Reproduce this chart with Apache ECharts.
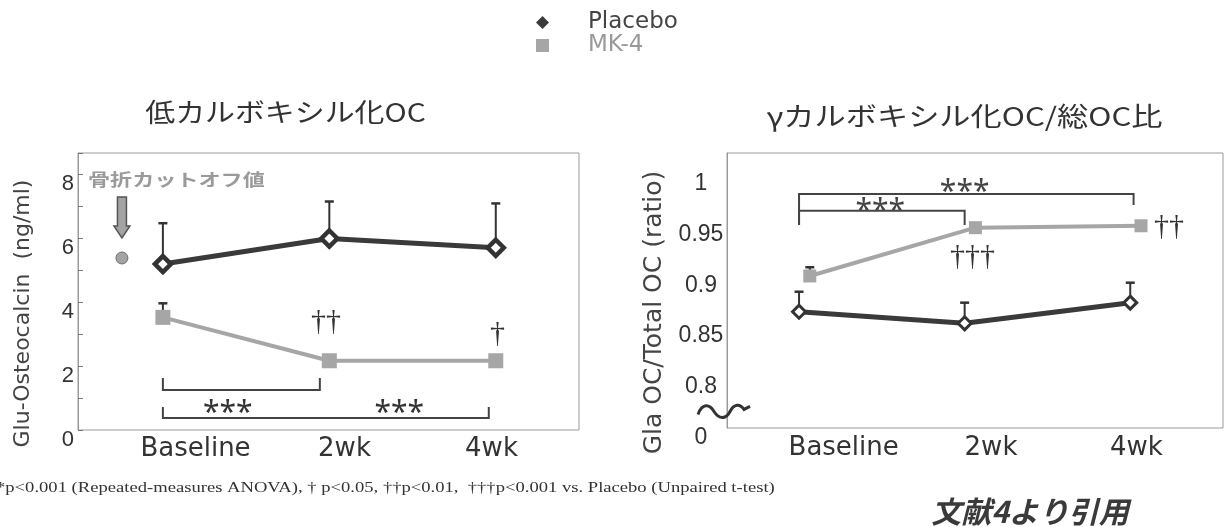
<!DOCTYPE html>
<html><head><meta charset="utf-8">
<script src="https://cdn.jsdelivr.net/npm/echarts@6/dist/echarts.min.js"></script>
<style>html,body{margin:0;padding:0;background:#fff}#c{width:1225px;height:527px}</style>
</head><body><div id="c"></div>
<script>
// ---------- data ----------
const categories = ['Baseline', '2wk', '4wk'];
const seriesNames = ['Placebo', 'MK-4'];

// left panel: Glu-Osteocalcin (ng/ml)
const gluTickLabels = [0, 2, 4, 6, 8];
const gluPlacebo = [5.20, 6.00, 5.71];
const gluPlaceboUpper = [6.48, 7.16, 7.10];
const gluMK4 = [3.53, 2.17, 2.17];
const gluMK4Upper = [3.97, 2.17, 2.17];
const gluCutoff = [-0.246, 5.39];                 // fracture cut-off value point
const gluCutoffArrow = [-0.246, 7.30, 6.02];      // x, arrow top, arrow tip
const gluCutoffText = ['骨折カットオフ値'];
const gluCutoffTextAt = [[-0.45, 7.84]];
const gluBrackets = [[0, 0.943, 1.25, 1.63, 1.63], [0, 1.958, 0.376, 0.72, 0.72]];
const gluStars = ['***', '***'];
const gluStarsAt = [[0.39, 0.52], [1.42, 0.52]];
const gluDaggers = ['††', '†'];
const gluDaggersAt = [[0.98, 3.37], [2.01, 2.99]];

// right panel: Gla OC / Total OC (ratio)
const ratioTickValues = [0.75, 0.8, 0.85, 0.9, 0.95, 1];
const ratioTickLabels = ['0', '0.8', '0.85', '0.9', '0.95', '1'];
const ratioPlacebo = [0.8646, 0.8532, 0.8735];
const ratioPlaceboUpper = [0.8843, 0.8735, 0.8932];
const ratioMK4 = [0.8998, 0.9474, 0.9493];
const ratioMK4Upper = [0.9084, 0.9474, 0.9493];
const ratioBrackets = [[0, 1.0, 0.9641, 0.950, 0.950], [0, 2.02, 0.9806, 0.950, 0.9697]];
const ratioStars = ['***', '***'];
const ratioStarsAt = [[0.49, 0.9633], [1.0, 0.9821]];
const ratioDaggers = ['†††', '††'];
const ratioDaggersAt = [[1.048, 0.918], [2.234, 0.9476]];
const ratioBreakAt = [[-0.453, 0.7663]];
const mk4Shift = 0.065;

// ---------- helpers ----------
const DARK = '#3a3a3a', GREY = '#a6a6a6';
function pts(arr, shift) { return arr.map((v, i) => [i + (shift || 0), v]); }
function errData(vals, ups, shift) { return vals.map((v, i) => [i + (shift || 0), v, ups[i]]); }
function errRender(color) {
  return function (params, api) {
    const p = api.coord([api.value(0), api.value(1)]);
    const q = api.coord([api.value(0), api.value(2)]);
    if (Math.abs(p[1] - q[1]) < 1) return null;
    return { type: 'group', children: [
      { type: 'line', shape: { x1: p[0], y1: p[1], x2: q[0], y2: q[1] }, style: { stroke: color, lineWidth: 2 } },
      { type: 'line', shape: { x1: q[0] - 4.5, y1: q[1], x2: q[0] + 4.5, y2: q[1] }, style: { stroke: color, lineWidth: 2.5 } }
    ] };
  };
}
function bracketRender(params, api) {
  const a = api.coord([api.value(0), api.value(3)]);
  const b = api.coord([api.value(0), api.value(2)]);
  const c = api.coord([api.value(1), api.value(2)]);
  const d = api.coord([api.value(1), api.value(4)]);
  return { type: 'polyline', shape: { points: [a, b, c, d] }, style: { stroke: '#444', lineWidth: 2, fill: null } };
}
function textRender(texts, font, color, align, scaleX) {
  return function (params, api) {
    const p = api.coord([api.value(0), api.value(1)]);
    return { type: 'text', x: p[0], y: p[1], scaleX: scaleX || 1,
      style: { text: texts[params.dataIndex], font: font, fill: color, align: align || 'center', verticalAlign: 'middle' } };
  };
}
function catLabel(v) {
  return v === 'Baseline' ? '{a|' + v + '}' : (v === '2wk' ? '{b|' + v + '}' : '{c|' + v + '}');
}
const catRich = {
  a: { fontFamily: 'DejaVu Sans', fontSize: 26, color: '#333', padding: [0, 0, 0, 68] },
  b: { fontFamily: 'DejaVu Sans', fontSize: 26, color: '#333', padding: [0, 0, 0, 32] },
  c: { fontFamily: 'DejaVu Sans', fontSize: 26, color: '#333', padding: [0, 8, 0, 0] }
};

const chart = echarts.init(document.getElementById('c'), null, { renderer: 'canvas' });
const option = {
  animation: false,
  backgroundColor: '#fff',
  legend: {
    orient: 'vertical', left: 531, top: 6, itemWidth: 13, itemHeight: 13, itemGap: 0,
    selectedMode: false,
    textStyle: { fontFamily: 'DejaVu Sans', fontSize: 23, lineHeight: 22, padding: [0, 0, 0, 34] },
    data: [
      { name: seriesNames[0], icon: 'diamond', itemStyle: { color: DARK, borderWidth: 0 }, textStyle: { color: '#444' } },
      { name: seriesNames[1], icon: 'rect', itemStyle: { color: GREY, borderWidth: 0 }, textStyle: { color: '#999' } }
    ]
  },
  graphic: [
    { type: 'text', x: 285.5, y: 112, scaleX: 1.15, style: { text: '低カルボキシル化OC', font: '26px "Noto Sans CJK JP"', fill: '#333', align: 'center', verticalAlign: 'middle' } },
    { type: 'text', x: 964.5, y: 116, scaleX: 1.2, style: { text: 'γカルボキシル化OC/総OC比', font: '26px "Noto Sans CJK JP"', fill: '#333', align: 'center', verticalAlign: 'middle' } },
    { type: 'text', x: -4, y: 488, scaleX: 1.24, style: { text: '*p<0.001 (Repeated-measures ANOVA), † p<0.05, ††p<0.01,  †††p<0.001 vs. Placebo (Unpaired t-test)', font: '15px "Liberation Serif"', fill: '#333', align: 'left', verticalAlign: 'middle' } },
    { type: 'text', x: 1030, y: 512, style: { text: '文献4より引用', font: 'italic bold 30px "Noto Sans CJK JP"', fill: '#3a3a3a', align: 'center', verticalAlign: 'middle' } }
  ],
  grid: [
    { left: 78, top: 153, width: 501, height: 277, show: true, borderColor: '#9a9a9a', borderWidth: 1 },
    { left: 727, top: 153, width: 496, height: 275, show: true, borderColor: '#9a9a9a', borderWidth: 1 }
  ],
  xAxis: [
    { type: 'category', gridIndex: 0, data: categories, boundaryGap: true, axisLine: { show: false, onZero: false }, axisTick: { show: false },
      axisLabel: { formatter: catLabel, rich: catRich, margin: 6 } },
    { type: 'value', gridIndex: 0, min: -0.51, max: 2.5, show: false, axisLine: { onZero: false } },
    { type: 'category', gridIndex: 1, data: categories, boundaryGap: true, axisLine: { show: false, onZero: false }, axisTick: { show: false },
      axisLabel: { formatter: catLabel, rich: catRich, margin: 7 } },
    { type: 'value', gridIndex: 1, min: -0.435, max: 2.56, show: false, axisLine: { onZero: false } }
  ],
  yAxis: [
    { type: 'value', gridIndex: 0, min: 0, max: 8.68, interval: 1, splitLine: { show: false },
      axisLine: { show: true, onZero: false, lineStyle: { color: '#9a9a9a' } },
      axisTick: { show: true, inside: true, length: 5, lineStyle: { color: '#777' } },
      axisLabel: { formatter: v => (gluTickLabels.indexOf(v) >= 0 ? String(v) : ''), fontFamily: 'Liberation Sans', fontSize: 22, lineHeight: 19, verticalAlign: 'top', color: '#333', margin: 4 },
      name: 'Glu-Osteocalcin  (ng/ml)', nameLocation: 'middle', nameGap: 44,
      nameTextStyle: { fontFamily: 'DejaVu Sans', fontSize: 22, color: '#444', padding: [0, 44, 0, 0] } },
    { type: 'value', gridIndex: 1, min: 0.75, max: 1.021, interval: 0.05, splitLine: { show: false },
      axisLine: { show: true, onZero: false, lineStyle: { color: '#9a9a9a' } }, axisTick: { show: false },
      axisLabel: { formatter: v => { for (let i = 0; i < ratioTickValues.length; i++) { if (Math.abs(v - ratioTickValues[i]) < 1e-6) return ratioTickLabels[i]; } return ''; },
        fontFamily: 'Liberation Sans', fontSize: 23, lineHeight: 19, verticalAlign: 'top', color: '#333', align: 'center', margin: 26 },
      name: 'Gla OC/Total OC (ratio)', nameLocation: 'middle', nameGap: 60,
      nameTextStyle: { fontFamily: 'DejaVu Sans', fontSize: 25, color: '#444', padding: [0, 44, 0, 0] } }
  ],
  series: [
    // ---- left panel ----
    { type: 'custom', name: 'errPL', xAxisIndex: 1, yAxisIndex: 0, z: 1, renderItem: errRender('#333'), data: errData(gluPlacebo, gluPlaceboUpper) },
    { type: 'custom', name: 'errML', xAxisIndex: 1, yAxisIndex: 0, z: 1, renderItem: errRender('#333'), data: errData(gluMK4, gluMK4Upper) },
    { type: 'line', name: seriesNames[1], xAxisIndex: 1, yAxisIndex: 0, z: 3, data: pts(gluMK4), symbol: 'rect', symbolSize: 15,
      lineStyle: { color: GREY, width: 4 }, itemStyle: { color: GREY }, emphasis: { disabled: true } },
    { type: 'line', name: seriesNames[0], xAxisIndex: 1, yAxisIndex: 0, z: 4, data: pts(gluPlacebo), symbol: 'diamond', symbolSize: 16,
      lineStyle: { color: DARK, width: 5 }, itemStyle: { color: '#fff', borderColor: '#333', borderWidth: 4.5 }, emphasis: { disabled: true } },
    { type: 'scatter', name: 'cutoff', xAxisIndex: 1, yAxisIndex: 0, z: 3, data: [gluCutoff], symbolSize: 12,
      itemStyle: { color: '#8c8c8c', borderColor: '#5a5a5a', borderWidth: 1 } },
    { type: 'custom', name: 'arrow', xAxisIndex: 1, yAxisIndex: 0, z: 3, data: [gluCutoffArrow],
      renderItem: function (params, api) {
        const t = api.coord([api.value(0), api.value(1)]);
        const b = api.coord([api.value(0), api.value(2)]);
        const cx = t[0], y0 = t[1], y1 = b[1], hh = 12, sw = 4.5, hw = 8;
        return { type: 'polygon', shape: { points: [[cx - sw, y0], [cx + sw, y0], [cx + sw, y1 - hh], [cx + hw, y1 - hh], [cx, y1], [cx - hw, y1 - hh], [cx - sw, y1 - hh]] },
          style: { fill: '#a3a3a3', stroke: '#555', lineWidth: 1.5 } };
      } },
    { type: 'custom', name: 'cutoffText', xAxisIndex: 1, yAxisIndex: 0, z: 5, data: gluCutoffTextAt, clip: false,
      renderItem: textRender(gluCutoffText, 'bold 17px "Noto Sans CJK JP"', '#9a9a9a', 'left', 1.3) },
    { type: 'custom', name: 'bracketsL', xAxisIndex: 1, yAxisIndex: 0, z: 2, data: gluBrackets, renderItem: bracketRender },
    { type: 'custom', name: 'starsL', xAxisIndex: 1, yAxisIndex: 0, z: 5, data: gluStarsAt, renderItem: textRender(gluStars, '30px "Noto Sans"', '#333') },
    { type: 'custom', name: 'daggersL', xAxisIndex: 1, yAxisIndex: 0, z: 5, data: gluDaggersAt, renderItem: textRender(gluDaggers, '30px "Liberation Serif"', '#333') },
    // ---- right panel ----
    { type: 'custom', name: 'errPR', xAxisIndex: 3, yAxisIndex: 1, z: 1, renderItem: errRender('#333'), data: errData(ratioPlacebo, ratioPlaceboUpper) },
    { type: 'custom', name: 'errMR', xAxisIndex: 3, yAxisIndex: 1, z: 1, renderItem: errRender('#333'), data: errData(ratioMK4, ratioMK4Upper, mk4Shift) },
    { type: 'line', name: seriesNames[1], xAxisIndex: 3, yAxisIndex: 1, z: 3, data: pts(ratioMK4, mk4Shift), symbol: 'rect', symbolSize: 13,
      lineStyle: { color: GREY, width: 4 }, itemStyle: { color: GREY }, emphasis: { disabled: true } },
    { type: 'line', name: seriesNames[0], xAxisIndex: 3, yAxisIndex: 1, z: 4, data: pts(ratioPlacebo), symbol: 'diamond', symbolSize: 13,
      lineStyle: { color: DARK, width: 5 }, itemStyle: { color: '#fff', borderColor: '#333', borderWidth: 3 }, emphasis: { disabled: true } },
    { type: 'custom', name: 'bracketsR', xAxisIndex: 3, yAxisIndex: 1, z: 2, data: ratioBrackets, renderItem: bracketRender },
    { type: 'custom', name: 'starsR', xAxisIndex: 3, yAxisIndex: 1, z: 5, data: ratioStarsAt, renderItem: textRender(ratioStars, '30px "Noto Sans"', '#444') },
    { type: 'custom', name: 'daggersR', xAxisIndex: 3, yAxisIndex: 1, z: 5, data: ratioDaggersAt, renderItem: textRender(ratioDaggers, '30px "Liberation Serif"', '#333') },
    { type: 'custom', name: 'break', xAxisIndex: 3, yAxisIndex: 1, z: 6, data: ratioBreakAt, clip: false,
      renderItem: function (params, api) {
        const p = api.coord([api.value(0), api.value(1)]);
        const x = p[0], y = p[1];
        const d = 'M' + (x - 26) + ' ' + (y + 3) + ' C' + (x - 22) + ' ' + (y - 8) + ' ' + (x - 15) + ' ' + (y - 8) + ' ' + (x - 10) + ' ' + (y) +
          ' S' + (x + 2) + ' ' + (y + 8) + ' ' + (x + 6) + ' ' + (y) + ' S' + (x + 16) + ' ' + (y - 8) + ' ' + (x + 20) + ' ' + (y - 2) + ' L' + (x + 26) + ' ' + (y - 5);
        return { type: 'path', shape: { pathData: d }, style: { stroke: '#333', lineWidth: 3, fill: null } };
      } }
  ]
};
chart.setOption(option);
</script>
</body></html>
